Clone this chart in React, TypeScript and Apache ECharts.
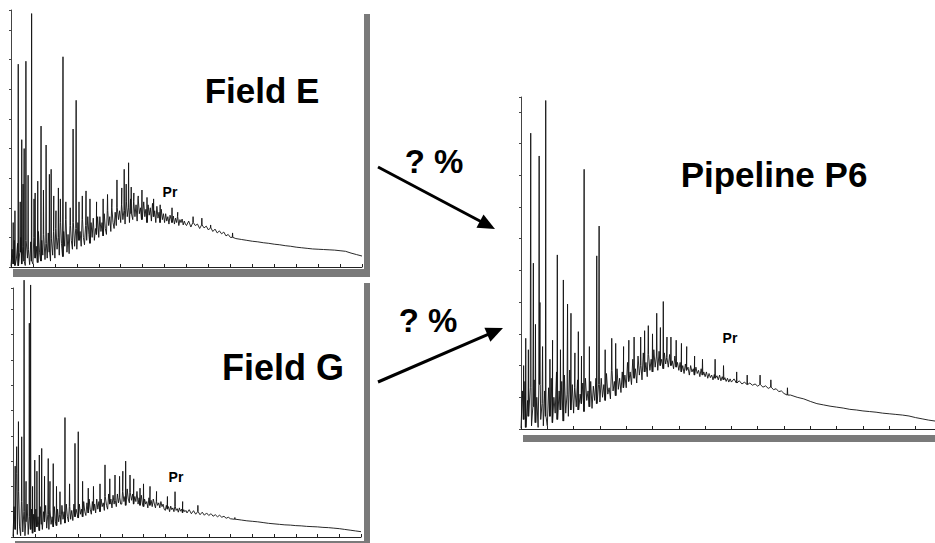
import React, { useEffect, useRef } from "react";
import * as echarts from "echarts";

// ---------- data (y in axis-tick units, x in axis-tick units) ----------
// dense part: every 0.05 from 0.00 to 7.95
const denseE = [
  0.02, 0.6, 0.1, 0.9, 0.05, 0.3, 0.8, 0.04, 0.5, 1.0, 0.1, 0.7, 0.2, 0.05, 0.9, 0.3, 0.6, 0.08, 0.85, 0.2,
  0.1, 1.0, 0.3, 0.7, 0.15, 1.2, 0.5, 0.2, 0.9, 0.4, 1.1, 0.25, 0.8, 0.3, 1.15, 0.5, 0.2, 0.95, 0.4, 1.2,
  0.3, 1.3, 0.6, 1.0, 0.4, 1.5, 0.8, 0.35, 1.2, 0.7, 1.6, 0.5, 1.1, 0.45, 1.4, 0.9, 0.6, 1.5, 0.7, 1.3,
  0.6, 1.5, 0.9, 1.2, 0.7, 1.6, 1.0, 0.75, 1.4, 0.9, 1.7, 1.1, 0.8, 1.5, 1.0, 1.65, 0.9, 1.3, 1.1, 1.7,
  1.0, 1.7, 1.2, 1.5, 1.05, 1.8, 1.3, 1.1, 1.9, 1.4, 1.7, 1.2, 2.0, 1.5, 1.3, 1.85, 1.4, 2.0, 1.6, 1.9,
  1.5, 2.1, 1.6, 1.9, 1.45, 2.2, 1.7, 2.0, 1.5, 2.3, 1.8, 1.6, 2.2, 1.7, 2.1, 1.55, 2.3, 1.8, 2.0, 1.6,
  1.6, 2.2, 1.7, 1.95, 1.5, 2.1, 1.75, 2.0, 1.55, 2.15, 1.7, 1.9, 1.5, 2.05, 1.65, 1.85, 1.5, 1.95, 1.6, 1.8,
  1.5, 1.8, 1.55, 1.7, 1.45, 1.75, 1.6, 1.5, 1.72, 1.45, 1.65, 1.5, 1.7, 1.4, 1.6, 1.5, 1.62, 1.42, 1.55, 1.45,
];
// middle part: every 0.1 from 8.0 to 9.9
const midE = [
  1.4, 1.55, 1.35, 1.5, 1.4, 1.45, 1.3, 1.42, 1.32, 1.38,
  1.25, 1.32, 1.2, 1.28, 1.15, 1.22, 1.12, 1.18, 1.05, 1.1,
];
// tail: every 0.25 from 10.0
const tailE = [
  1.0, 0.96, 0.93, 0.9, 0.87, 0.85, 0.82, 0.8, 0.77, 0.75, 0.72, 0.7, 0.67,
  0.65, 0.63, 0.61, 0.6, 0.59, 0.58, 0.57, 0.55, 0.53, 0.47, 0.42, 0.37,
];
// sharp peaks [x, top]
const peaksE: [number, number][] = [
  [0.18, 1.9], [0.33, 6.85], [0.49, 4.3], [0.6, 4.0], [0.68, 6.95], [0.94, 8.56],
  [1.1, 2.5], [1.37, 4.76], [1.6, 4.12], [1.75, 3.13], [1.83, 3.3], [2.16, 2.67],
  [2.37, 7.1], [2.7, 2.0], [2.83, 4.66], [2.97, 5.63], [3.42, 2.57], [3.9, 2.2],
  [4.2, 2.3], [4.83, 2.94], [5.05, 2.67], [5.16, 3.3], [5.36, 3.52], [5.6, 2.5],
  [5.97, 2.6], [6.5, 2.3], [7.34, 2.0], [9.1, 1.42], [10.1, 1.15],
  [0.1, 1.5], [0.42, 2.2], [0.55, 2.8], [0.78, 3.1], [1.05, 2.3], [1.22, 2.9],
  [1.48, 2.6], [1.95, 2.4], [2.05, 1.9], [2.25, 2.3], [2.5, 2.2], [3.1, 2.2],
  [3.25, 2.4], [3.6, 2.3], [4.4, 2.45], [4.6, 2.3], [5.25, 2.8], [5.48, 2.7],
  [5.8, 2.4], [6.2, 2.35], [6.8, 2.1], [7.6, 1.85], [8.3, 1.7], [8.7, 1.65],
];

const denseG = [
  0.02, 1.2, 0.3, 2.5, 0.1, 1.8, 0.4, 0.05, 1.4, 0.2, 1.0, 0.05, 0.6, 1.3, 0.1, 0.8, 0.3, 1.1, 0.15, 0.9,
  0.2, 1.1, 0.4, 0.8, 0.25, 1.2, 0.5, 0.3, 1.0, 0.6, 1.25, 0.35, 0.9, 0.3, 1.1, 0.5, 0.8, 0.4, 1.2, 0.6,
  0.45, 1.1, 0.6, 0.9, 0.5, 1.25, 0.7, 1.0, 0.55, 1.3, 0.8, 0.6, 1.2, 0.7, 1.05, 0.65, 1.3, 0.8, 1.1, 0.9,
  0.75, 1.3, 0.9, 1.1, 0.8, 1.4, 1.0, 0.85, 1.35, 0.95, 1.5, 1.1, 0.9, 1.4, 1.05, 1.3, 0.95, 1.5, 1.1, 1.4,
  1.0, 1.5, 1.2, 1.35, 1.05, 1.6, 1.25, 1.1, 1.7, 1.3, 1.5, 1.15, 1.65, 1.3, 1.45, 1.2, 1.7, 1.35, 1.55, 1.3,
  1.3, 1.8, 1.4, 1.6, 1.25, 1.9, 1.5, 1.35, 1.75, 1.45, 1.7, 1.3, 1.6, 1.4, 1.8, 1.3, 1.55, 1.25, 1.65, 1.3,
  1.2, 1.5, 1.3, 1.4, 1.15, 1.55, 1.25, 1.45, 1.2, 1.5, 1.3, 1.15, 1.4, 1.25, 1.35, 1.15, 1.4, 1.2, 1.3, 1.1,
  1.05, 1.25, 1.1, 1.2, 1.0, 1.22, 1.08, 1.15, 1.0, 1.2, 1.05, 1.12, 0.98, 1.15, 1.02, 1.1, 0.96, 1.08, 1.0, 1.05,
];
const midG = [
  0.95, 1.08, 0.92, 1.04, 0.9, 1.0, 0.88, 0.98, 0.86, 0.95,
  0.85, 0.92, 0.82, 0.88, 0.8, 0.86, 0.78, 0.82, 0.74, 0.78,
];
const tailG = [
  0.72, 0.7, 0.67, 0.64, 0.62, 0.6, 0.57, 0.54, 0.52, 0.5, 0.48, 0.47, 0.45,
  0.44, 0.42, 0.41, 0.4, 0.38, 0.37, 0.35, 0.33, 0.3, 0.27, 0.24, 0.21,
];
const peaksG: [number, number][] = [
  [0.17, 3.57], [0.25, 4.56], [0.4, 3.96], [0.51, 10.15], [0.6, 2.2], [0.75, 8.45],
  [0.81, 9.96], [1.0, 3.04], [1.21, 3.24], [1.32, 3.5], [1.62, 3.1], [1.85, 2.9],
  [2.16, 1.79], [2.39, 4.72], [2.85, 3.7], [3.0, 4.16], [3.46, 1.93], [4.23, 2.85],
  [4.69, 2.45], [5.18, 3.0], [5.38, 2.45], [5.84, 1.93], [7.45, 1.79], [9.13, 0.9],
  [10.2, 0.77],
  [0.1, 2.8], [0.9, 2.0], [1.1, 2.6], [1.45, 2.4], [1.7, 2.2], [2.0, 2.0], [2.6, 2.1],
  [3.2, 2.2], [3.7, 2.0], [4.0, 2.1], [4.45, 2.3], [4.9, 2.4], [5.05, 2.6], [5.55, 2.3],
  [6.0, 2.1], [6.3, 2.0], [6.6, 1.8], [7.1, 1.6], [7.8, 1.4], [8.5, 1.25],
];

const denseP = [
  0.02, 1.2, 0.3, 1.5, 0.05, 0.9, 0.4, 1.3, 0.1, 0.7, 1.55, 0.2, 1.0, 0.05, 1.4, 0.3, 0.8, 0.1, 1.2, 0.4,
  0.1, 1.3, 0.4, 1.6, 0.2, 1.0, 0.5, 1.8, 0.3, 1.2, 0.6, 1.5, 0.25, 1.7, 0.5, 1.1, 0.4, 1.86, 0.6, 1.4,
  0.5, 1.3, 0.7, 1.55, 0.6, 1.1, 0.8, 1.45, 0.55, 1.6, 0.9, 1.2, 0.7, 1.5, 0.65, 1.35, 0.9, 1.6, 0.8, 1.4,
  0.85, 1.6, 1.0, 1.4, 0.9, 1.75, 1.1, 1.3, 0.95, 1.85, 1.2, 1.5, 1.05, 1.9, 1.25, 1.6, 1.15, 1.8, 1.3, 1.7,
  1.3, 2.1, 1.5, 1.8, 1.4, 2.2, 1.6, 1.9, 1.45, 2.3, 1.7, 2.0, 1.55, 2.4, 1.8, 2.1, 1.65, 2.35, 1.85, 2.2,
  1.8, 2.5, 1.95, 2.3, 1.85, 2.45, 2.0, 2.2, 1.9, 2.4, 2.05, 2.25, 1.95, 2.35, 2.0, 2.15, 1.9, 2.3, 1.95, 2.1,
  1.85, 2.1, 1.8, 2.0, 1.75, 2.05, 1.85, 1.95, 1.7, 2.0, 1.8, 1.9, 1.7, 1.95, 1.75, 1.85, 1.65, 1.9, 1.7, 1.8,
  1.65, 1.8, 1.6, 1.75, 1.62, 1.7, 1.55, 1.72, 1.6, 1.68, 1.55, 1.7, 1.52, 1.65, 1.55, 1.62, 1.5, 1.6, 1.48, 1.58,
];
const midP = [
  1.48, 1.58, 1.45, 1.52, 1.42, 1.48, 1.4, 1.45, 1.38, 1.42,
  1.35, 1.4, 1.32, 1.36, 1.28, 1.32, 1.24, 1.27, 1.18, 1.2,
];
const tailP = [
  1.12, 1.07, 1.0, 0.95, 0.87, 0.8, 0.76, 0.72, 0.69, 0.66, 0.62, 0.6,
  0.57, 0.55, 0.53, 0.5, 0.48, 0.46, 0.44, 0.41, 0.36, 0.32, 0.28, 0.25,
];
const peaksP: [number, number][] = [
  [0.18, 2.86], [0.37, 9.33], [0.47, 5.23], [0.69, 8.61], [0.72, 3.99], [0.94, 10.36],
  [1.1, 2.2], [1.38, 5.49], [1.61, 4.7], [1.77, 3.94], [1.9, 3.65], [2.18, 3.07],
  [2.4, 8.19], [2.88, 5.46], [2.97, 6.4], [3.45, 2.86], [4.3, 2.9], [4.84, 3.26],
  [5.0, 3.0], [5.16, 3.65], [5.41, 4.02], [5.7, 2.9], [6.1, 2.7], [7.38, 2.2],
  [9.09, 1.7], [10.13, 1.3],
  [0.1, 2.0], [0.28, 2.5], [0.55, 3.3], [0.82, 2.6], [1.2, 2.8], [1.5, 2.5], [2.05, 2.4],
  [2.3, 2.3], [2.6, 2.6], [3.2, 2.5], [3.6, 2.7], [3.9, 2.6], [4.1, 2.8], [4.55, 2.9],
  [4.7, 3.1], [5.3, 3.2], [5.55, 2.9], [5.9, 2.8], [6.3, 2.6], [6.6, 2.3], [6.9, 2.2],
  [7.7, 2.0], [8.2, 1.8], [8.6, 1.7], [9.5, 1.55],
];

const titles = ["Field E", "Field G", "Pipeline P6"];
const peakLabel = "Pr";
const arrowLabel = "? %";

// ---------- helpers ----------
function buildTrace(dense: number[], mid: number[], tail: number[], peaks: [number, number][]) {
  const pts: [number, number][] = [];
  dense.forEach((v, i) => pts.push([i * 0.05, v]));
  mid.forEach((v, i) => pts.push([8 + i * 0.1, v]));
  tail.forEach((v, i) => pts.push([10 + i * 0.25, v]));
  const base = pts.slice();
  const nearest = (x: number) => {
    let best = base[0];
    for (const p of base) if (Math.abs(p[0] - x) < Math.abs(best[0] - x)) best = p;
    return best[1];
  };
  const extra: [number, number][] = [];
  peaks.forEach(([x, top]) => {
    const b = nearest(x);
    extra.push([x - 0.012, b], [x, top], [x + 0.012, b]);
  });
  return pts.concat(extra).sort((a, b) => a[0] - b[0]);
}

const FONT = "'Liberation Sans', Arial, Helvetica, sans-serif";
const AX = "#222";
const BAND = "#7a7a7a";

function xAx(gridIndex: number, max: number) {
  return {
    type: "value", gridIndex, min: 0, max, interval: 1,
    axisLine: { show: true, lineStyle: { color: AX, width: 1 } },
    axisTick: { show: true, inside: true, length: 3, lineStyle: { color: AX } },
    axisLabel: { show: false }, splitLine: { show: false },
  };
}
function yAx(gridIndex: number, max: number) {
  return {
    type: "value", gridIndex, min: 0, max, interval: 1,
    axisLine: { show: true, lineStyle: { color: "#444", width: 1 } },
    axisTick: { show: true, inside: false, length: 2, lineStyle: { color: "#444" } },
    axisLabel: { show: false }, splitLine: { show: false },
  };
}
function trace(idx: number, data: [number, number][]) {
  return {
    type: "line", xAxisIndex: idx, yAxisIndex: idx, data,
    showSymbol: false, symbol: "none", clip: false, silent: true,
    lineStyle: { color: "#111", width: 0.9 },
  };
}
function label(text: string, x: number, y: number, size: number) {
  return {
    type: "text", x, y,
    style: { text, fill: "#000", font: `bold ${size}px ${FONT}`, align: "center", verticalAlign: "middle" },
  };
}
function arrow(x1: number, y1: number, x2: number, y2: number) {
  const dx = x2 - x1, dy = y2 - y1;
  const L = Math.hypot(dx, dy);
  const ux = dx / L, uy = dy / L;
  const hl = 17, hw = 7.5;
  const bx = x2 - ux * hl, by = y2 - uy * hl;
  const px = -uy, py = ux;
  return [
    { type: "line", shape: { x1, y1, x2: bx + ux * 2, y2: by + uy * 2 }, style: { stroke: "#000", lineWidth: 3 } },
    { type: "polygon", shape: { points: [[x2, y2], [bx + px * hw, by + py * hw], [bx - px * hw, by - py * hw]] }, style: { fill: "#000" } },
  ];
}

export default function App() {
  const ref = useRef<HTMLDivElement>(null);
  useEffect(() => {
    if (!ref.current) return;
    const chart = echarts.init(ref.current, null, { renderer: "svg" });
    const option: any = {
      animation: false,
      backgroundColor: "#fff",
      grid: [
        { left: 11, top: 10, width: 351, height: 257 },
        { left: 13, top: 288, width: 348, height: 249 },
        { left: 521, top: 97, width: 414, height: 332 },
      ],
      xAxis: [xAx(0, 16), xAx(1, 16), xAx(2, 15.74)],
      yAxis: [yAx(0, 8.68), yAx(1, 9.84), yAx(2, 10.47)],
      series: [
        trace(0, buildTrace(denseE, midE, tailE, peaksE)),
        trace(1, buildTrace(denseG, midG, tailG, peaksG)),
        trace(2, buildTrace(denseP, midP, tailP, peaksP)),
      ],
      graphic: [
        { type: "rect", shape: { x: 364, y: 14, width: 6, height: 263 }, style: { fill: BAND } },
        { type: "rect", shape: { x: 13, y: 269, width: 357, height: 8 }, style: { fill: BAND } },
        { type: "rect", shape: { x: 364, y: 283, width: 6, height: 260 }, style: { fill: BAND } },
        { type: "rect", shape: { x: 15, y: 541, width: 349, height: 2 }, style: { fill: BAND } },
        { type: "rect", shape: { x: 523, y: 435, width: 412, height: 7 }, style: { fill: BAND } },
        label(titles[0], 262, 90, 35),
        label(titles[1], 283, 367, 36),
        label(titles[2], 774, 174, 35),
        label(peakLabel, 170, 192, 14),
        label(peakLabel, 176, 477, 14),
        label(peakLabel, 730, 338, 14),
        label(arrowLabel, 434, 161, 33),
        label(arrowLabel, 428, 320, 33),
        ...arrow(378, 167, 495, 229),
        ...arrow(378, 382, 503, 328),
      ],
    };
    chart.setOption(option);
    return () => chart.dispose();
  }, []);
  return (
    <div
      ref={ref}
      style={{ position: "fixed", left: 0, top: 0, width: 935, height: 543, background: "#fff" }}
    />
  );
}
